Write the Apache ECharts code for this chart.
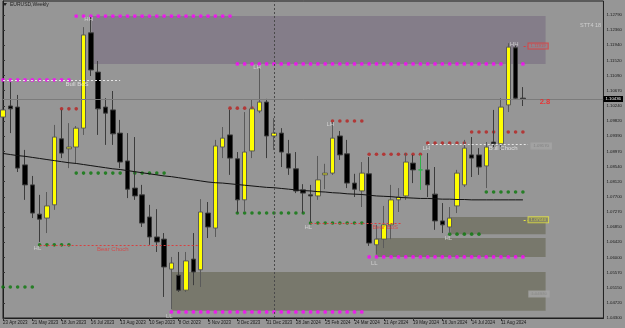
<!DOCTYPE html>
<html>
<head>
<meta charset="utf-8">
<title>EURUSD,Weekly</title>
<script src="https://cdn.jsdelivr.net/npm/echarts@6.0.0/dist/echarts.min.js"></script>
<style>
  html, body { margin: 0; padding: 0; background: #969696; }
  #chart { width: 625px; height: 328px; }
</style>
</head>
<body>
<div id="chart"></div>
<script>
// weekly bars, first bar = week of 23 Apr 2023, a date label every 4 bars
var dateLabels = ['23 Apr 2023', '21 May 2023', '18 Jun 2023', '16 Jul 2023', '13 Aug 2023', '10 Sep 2023',
  '8 Oct 2023', '5 Nov 2023', '3 Dec 2023', '31 Dec 2023', '28 Jan 2024', '25 Feb 2024',
  '24 Mar 2024', '21 Apr 2024', '19 May 2024', '16 Jun 2024', '14 Jul 2024', '11 Aug 2024'];
var priceLabels = ['1.04300', '1.04720', '1.05150', '1.05570', '1.06000', '1.06420', '1.06850',
  '1.07270', '1.07700', '1.08120', '1.08540', '1.08970', '1.09390', '1.09820', '1.10240',
  '1.10670', '1.11090', '1.11520', '1.11940', '1.12360', '1.12790'];
var yMin = 1.04300, yStep = 0.004245, yMax = 1.13182;
var barSlots = 83; // 72 bars + empty space on the right

var opens = [1.0993, 1.1024, 1.1021, 1.0859, 1.0803, 1.0721, 1.0710, 1.0747, 1.0932, 1.0904,
  1.0909, 1.0962, 1.1229, 1.1119, 1.1021, 1.1013, 1.0948, 1.0870, 1.0794, 1.0775,
  1.0713, 1.0657, 1.0651, 1.0567, 1.0550, 1.0508, 1.0595, 1.0565, 1.0724, 1.0682,
  1.0909, 1.0943, 1.0876, 1.0761, 1.0898, 1.1010, 1.1035, 1.0940, 1.0948, 1.0890,
  1.0848, 1.0789, 1.0775, 1.0772, 1.0831, 1.0836, 1.0940, 1.0890, 1.0808, 1.0786,
  1.0834, 1.0635, 1.0651, 1.0691, 1.0761, 1.0772, 1.0864, 1.0845, 1.0845, 1.0777,
  1.0702, 1.0685, 1.0744, 1.0803, 1.0887, 1.0887, 1.0856, 1.0923, 1.0918, 1.1027,
  1.1187, 1.1046];
var closes = [1.1013, 1.1016, 1.0850, 1.0803, 1.0724, 1.0707, 1.0744, 1.0937, 1.0892, 1.0909,
  1.0962, 1.1223, 1.1125, 1.1016, 1.1004, 1.0946, 1.0867, 1.0791, 1.0772, 1.0696,
  1.0657, 1.0643, 1.0573, 1.0584, 1.0508, 1.0590, 1.0559, 1.0727, 1.0685, 1.0912,
  1.0934, 1.0878, 1.0761, 1.0895, 1.1016, 1.1035, 1.0940, 1.0948, 1.0895, 1.0850,
  1.0786, 1.0780, 1.0772, 1.0817, 1.0836, 1.0934, 1.0887, 1.0808, 1.0791, 1.0836,
  1.0640, 1.0651, 1.0691, 1.0761, 1.0769, 1.0867, 1.0845, 1.0845, 1.0803, 1.0702,
  1.0691, 1.0710, 1.0836, 1.0906, 1.0878, 1.0853, 1.0909, 1.0918, 1.1021, 1.1189,
  1.1046, 1.1044];
var lows = [1.0971, 1.0948, 1.0839, 1.0761, 1.0710, 1.0643, 1.0668, 1.0733, 1.0878, 1.0850,
  1.0864, 1.0943, 1.1108, 1.0943, 1.0915, 1.0915, 1.0850, 1.0766, 1.0761, 1.0685,
  1.0635, 1.0615, 1.0489, 1.0455, 1.0503, 1.0503, 1.0522, 1.0517, 1.0654, 1.0657,
  1.0878, 1.0831, 1.0724, 1.0727, 1.0878, 1.1004, 1.0878, 1.0901, 1.0853, 1.0831,
  1.0780, 1.0724, 1.0699, 1.0761, 1.0791, 1.0831, 1.0873, 1.0794, 1.0769, 1.0741,
  1.0632, 1.0609, 1.0626, 1.0651, 1.0727, 1.0761, 1.0808, 1.0789, 1.0769, 1.0677,
  1.0668, 1.0668, 1.0724, 1.0797, 1.0825, 1.0831, 1.0794, 1.0901, 1.0901, 1.1007,
  1.1041, 1.1024];
var highs = [1.1091, 1.1091, 1.1055, 1.0901, 1.0828, 1.0775, 1.0783, 1.0971, 1.1013, 1.0976,
  1.0968, 1.1245, 1.1273, 1.1150, 1.1046, 1.1066, 1.0985, 1.0948, 1.0937, 1.0803,
  1.0747, 1.0735, 1.0668, 1.0601, 1.0615, 1.0615, 1.0668, 1.0763, 1.0755, 1.0929,
  1.0965, 1.1013, 1.0895, 1.1007, 1.1041, 1.1131, 1.1044, 1.0990, 1.0962, 1.0929,
  1.0895, 1.0805, 1.0803, 1.0884, 1.0862, 1.0979, 1.0954, 1.0929, 1.0834, 1.0867,
  1.0881, 1.0691, 1.0744, 1.0803, 1.0794, 1.0892, 1.0887, 1.0887, 1.0892, 1.0853,
  1.0752, 1.0741, 1.0845, 1.0929, 1.0937, 1.0906, 1.0923, 1.1013, 1.1046, 1.1200,
  1.1195, 1.1077];
// slow moving average drawn over the candles
var maLine = [1.0891, 1.0888, 1.0885, 1.0883, 1.0880, 1.0877, 1.0874, 1.0871, 1.0868, 1.0865,
  1.0863, 1.0860, 1.0857, 1.0854, 1.0851, 1.0848, 1.0846, 1.0843, 1.0840, 1.0837,
  1.0834, 1.0831, 1.0828, 1.0826, 1.0823, 1.0820, 1.0817, 1.0814, 1.0811, 1.0809,
  1.0808, 1.0806, 1.0804, 1.0802, 1.0800, 1.0798, 1.0796, 1.0795, 1.0793, 1.0791,
  1.0789, 1.0787, 1.0786, 1.0784, 1.0783, 1.0781, 1.0780, 1.0778, 1.0777, 1.0776,
  1.0774, 1.0772, 1.0771, 1.0770, 1.0768, 1.0767, 1.0766, 1.0765, 1.0765, 1.0764,
  1.0763, 1.0763, 1.0762, 1.0762, 1.0761, 1.0761, 1.0761, 1.0761, 1.0761, 1.0761,
  1.0761, 1.0761];

// dotted swing levels: [first bar, last bar, price]
var magentaLevels = [[10, 31, 1.1276], [32, 71, 1.1142], [0, 9, 1.1097], [23, 49, 1.0447], [50, 71, 1.0601]];
var redLevels = [[8, 10, 1.1016], [31, 34, 1.1018], [45, 49, 1.0982], [50, 57, 1.0889], [58, 63, 1.0920], [64, 71, 1.0951]];
var greenLevels = [[0, 4, 1.0517], [5, 9, 1.0635], [10, 22, 1.0836], [32, 41, 1.0724], [42, 49, 1.0696], [61, 65, 1.0665], [66, 71, 1.0783]];

// zones: [from bar, to bar, low, high]
var supplyZones = [[12.1, 74.1, 1.1142, 1.1276]];
var demandZones = [[23, 74.1, 1.0450, 1.0559], [50.9, 74.1, 1.0601, 1.0654], [61.1, 74.1, 1.0665, 1.0713]];

// structure breaks: [text, from bar, to bar, price, label bar, label price]
var bullBreaks = [['Bull BoS', 0, 16, 1.1097, 10.1, 1.1086], ['Bull Choch', 58, 71.7, 1.0917, 68.3, 1.0906]];
var bearBreaks = [['Bear Choch', 5, 26.8, 1.0635, 15.0, 1.0623], ['Bear BoS', 42, 54.5, 1.0696, 52.2, 1.0685]];

// swing labels: [text, bar, price]
var swingTags = [['HH', 11.7, 1.1268], ['HL', 4.7, 1.0626], ['LL', 22.7, 1.0436], ['LH', 34.7, 1.1133],
  ['HL', 41.7, 1.0685], ['LH', 44.7, 1.0974], ['LL', 50.7, 1.0584], ['LH', 57.8, 1.0906],
  ['HL', 60.8, 1.0654], ['HH', 69.8, 1.1198]];
var ratioTag = ['2.8', 74.0, 1.1035];
// price boxes at the right end of the zones: [text, bar, price]
var priceTags = [['1.11919', 71.7, 1.1192], ['1.09170', 72.1, 1.0912], ['1.07040', 71.7, 1.0705], ['1.04970', 71.8, 1.0497]];
var lastPrice = 1.10436;
var separatorBar = 37;

var FONT = 'Liberation Sans';
var chart = echarts.init(document.getElementById('chart'));

var categories = [];
for (var i = 0; i < barSlots; i++) categories.push(String(i));

var candleData = opens.map(function (o, i) { return [o, closes[i], lows[i], highs[i]]; });

function dotRows(levels) {
  var pts = [];
  levels.forEach(function (l) {
    for (var k = l[0]; k <= l[1]; k++) pts.push([k, l[2]]);
  });
  return pts;
}

function zoneAreas(list, color) {
  return list.map(function (z) {
    return [{ xAxis: z[0], yAxis: z[3], itemStyle: { color: color } }, { xAxis: z[1], yAxis: z[2] }];
  });
}

function breakLines(list, color) {
  return list.map(function (b) {
    var ls = { color: color, type: [2, 2], width: 1 };
    return [{ coord: [b[1], b[3]], lineStyle: ls }, { coord: [b[2], b[3]], lineStyle: ls }];
  });
}

function textItems(list, color, size, weight) {
  return list.map(function (t) {
    return { value: [t[1], t[2]], name: t[0],
      label: { color: color, fontSize: size, fontWeight: weight || 'normal' } };
  });
}

var breakLabels = bullBreaks.map(function (b) { return [b[0], b[4], b[5]]; });
var bearLabels = bearBreaks.map(function (b) { return [b[0], b[4], b[5]]; });

var tagStyles = [
  { color: '#e23b3b', borderColor: '#e23b3b', backgroundColor: '#8d8791' },
  { color: '#7a7a7a', borderColor: '#a4a4a4', backgroundColor: '#a4a4a4' },
  { color: '#e6e640', borderColor: '#e6e640', backgroundColor: '#7f7f6a' },
  { color: '#8a8a8a', borderColor: '#a4a4a4', backgroundColor: '#a4a4a4' }
];
var boxItems = priceTags.map(function (t, i) {
  var s = tagStyles[i];
  return { value: [t[1], t[2]], name: t[0],
    label: { color: s.color, borderColor: s.borderColor, borderWidth: 1, backgroundColor: s.backgroundColor } };
});

var option = {
  backgroundColor: '#969696',
  animation: false,
  textStyle: { fontFamily: FONT },
  grid: { left: 3, right: 19, top: 1, bottom: 10, show: true, borderColor: '#1e1e1e', borderWidth: 1 },
  xAxis: [{
    type: 'category',
    data: categories,
    boundaryGap: false,
    axisLine: { lineStyle: { color: '#1e1e1e' } },
    axisTick: { length: 3, lineStyle: { color: '#333' },
      interval: function (i) { return i % 4 === 0 && i / 4 < dateLabels.length; } },
    axisLabel: {
      interval: function (i) { return i % 4 === 0 && i / 4 < dateLabels.length; },
      formatter: function (v, i) { return dateLabels[i / 4] || ''; },
      align: 'left', margin: 2, fontSize: 4.5, color: '#1a1a1a', fontFamily: FONT
    },
    splitLine: { show: false }
  }, {
    type: 'value', min: 0, max: barSlots - 1, show: false
  }],
  yAxis: {
    type: 'value', position: 'right', scale: true,
    min: yMin, max: yMax, interval: yStep,
    axisLine: { show: true, lineStyle: { color: '#1e1e1e' } },
    axisTick: { show: true, length: 2, lineStyle: { color: '#333' } },
    axisLabel: {
      margin: 3, fontSize: 4.3, color: '#1a1a1a', fontFamily: FONT, showMaxLabel: false,
      formatter: function (v) { return priceLabels[Math.round((v - yMin) / yStep)] || ''; }
    },
    splitLine: { show: false }
  },
  graphic: [
    { type: 'polygon', shape: { points: [[3, 3], [7, 3], [5, 6]] }, style: { fill: '#222' } },
    { type: 'text', left: 10, top: 2, style: { text: 'EURUSD,Weekly', fontSize: 5, fill: '#222', fontFamily: FONT } },
    { type: 'text', left: 580, top: 22, style: { text: 'STT4 18', fontSize: 5.5, fill: '#cfcfcf', fontFamily: FONT } }
  ],
  series: [
    {
      name: 'zones', type: 'scatter', xAxisIndex: 1, data: [], z: 1, silent: true,
      markArea: { silent: true, data: zoneAreas(supplyZones, '#847d89').concat(zoneAreas(demandZones, '#78786c')) }
    },
    {
      name: 'magenta', type: 'scatter', data: dotRows(magentaLevels), symbolSize: 3.8, z: 2,
      itemStyle: { color: '#ff00ff' }, silent: true
    },
    {
      name: 'red', type: 'scatter', data: dotRows(redLevels), symbolSize: 3.6, z: 2,
      itemStyle: { color: '#b8201f' }, silent: true
    },
    {
      name: 'green', type: 'scatter', data: dotRows(greenLevels), symbolSize: 3.6, z: 2,
      itemStyle: { color: '#0a780a' }, silent: true
    },
    {
      name: 'EURUSD', type: 'candlestick', data: candleData, barWidth: 5, z: 3,
      itemStyle: {
        color: '#ffff00', color0: '#000000',
        borderColor: '#5a5a5a', borderColor0: '#3c3c3c', borderColorDoji: '#2fb24a', borderWidth: 1
      }
    },
    {
      name: 'MA', type: 'line', data: maLine, symbol: 'none', z: 4, silent: true,
      lineStyle: { color: '#111', width: 1 }
    },
    {
      name: 'levels', type: 'scatter', xAxisIndex: 1, data: [], z: 5, silent: true,
      markLine: {
        silent: true, symbol: ['none', 'none'], precision: 5, label: { show: false },
        data: breakLines(bullBreaks, '#e6e6e6')
          .concat(breakLines(bearBreaks, '#d84040'))
          .concat(breakLines([['', 71.1, 71.7, priceTags[0][2]]], '#e23b3b'))
          .concat(breakLines([['', 71.1, 71.7, priceTags[2][2]]], '#e6e640'))
          .concat([
            { xAxis: separatorBar, lineStyle: { color: '#4a4a4a', type: [2, 2], width: 1 } },
            { yAxis: lastPrice, lineStyle: { color: '#7b7b7b', type: 'solid', width: 1 },
              label: { show: true, position: 'end', distance: 0, formatter: lastPrice.toFixed(5),
                backgroundColor: '#000', color: '#fff', fontSize: 4.3, padding: [1, 2, 1, 2], fontFamily: FONT } }
          ])
      }
    },
    {
      name: 'text', type: 'scatter', xAxisIndex: 1, z: 6, silent: true, symbolSize: 1,
      itemStyle: { color: 'rgba(0,0,0,0)' },
      label: { show: true, position: 'inside', formatter: '{b}', fontFamily: FONT },
      data: textItems(swingTags, '#dedede', 6)
        .concat(textItems(breakLabels, '#ececec', 6))
        .concat(textItems(bearLabels, '#e03c3c', 6))
        .concat(textItems([ratioTag], '#ff1a1a', 7.5, 'bold'))
    },
    {
      name: 'boxes', type: 'scatter', xAxisIndex: 1, z: 6, silent: true, symbolSize: 1,
      itemStyle: { color: 'rgba(0,0,0,0)' },
      label: { show: true, position: 'right', distance: 0, formatter: '{b}', fontSize: 4.3,
        padding: [1, 2, 0, 2], fontFamily: FONT },
      data: boxItems
    }
  ]
};

chart.setOption(option);
</script>
</body>
</html>
